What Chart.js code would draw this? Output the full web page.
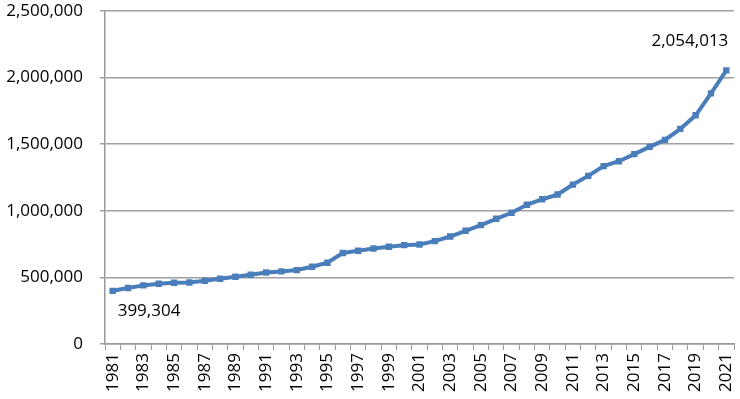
<!DOCTYPE html>
<html><head><meta charset="utf-8">
<script src="https://cdn.jsdelivr.net/npm/chart.js@4"></script>
<style>html,body{margin:0;padding:0;background:#fff}#wrap{width:740px;height:399px}</style>
</head><body><div id="wrap"><canvas id="c"></canvas></div>
<script>
const years = [1981,1982,1983,1984,1985,1986,1987,1988,1989,1990,1991,1992,1993,1994,1995,1996,1997,1998,1999,2000,2001,2002,2003,2004,2005,2006,2007,2008,2009,2010,2011,2012,2013,2014,2015,2016,2017,2018,2019,2020,2021];
const values = [399304,420000,440000,452000,460000,462000,475000,490000,505000,520000,537000,545000,555000,580000,610000,683000,700000,717000,730000,742000,747000,772000,807000,850000,892000,940000,985000,1045000,1087000,1122000,1197000,1262000,1335000,1372000,1425000,1480000,1532000,1615000,1717000,1882000,2054013];
const yTicks = [0,500000,1000000,1500000,2000000,2500000];
const labelled = [0, values.length-1];

const FONT = "'Open Sans', sans-serif";
const dataLabels = {
  id:'dataLabels',
  afterDatasetsDraw(chart){
    const ctx = chart.ctx;
    const meta = chart.getDatasetMeta(0);
    ctx.save();
    ctx.font = "17px " + FONT;
    ctx.fillStyle = '#000';
    ctx.textBaseline = 'middle';
    labelled.forEach(i=>{
      const p = meta.data[i];
      const txt = values[i].toLocaleString('en-US');
      if (i === 0) { ctx.textAlign='left'; ctx.fillText(txt, p.x+5, p.y+20); }
      else { ctx.textAlign='right'; ctx.fillText(txt, p.x+2, p.y-29); }
    });
    ctx.restore();
  }
};

new Chart(document.getElementById('c'), {
  type:'line',
  data:{labels: years.map(String), datasets:[{
    data: values, borderColor:'#4a7ebb', backgroundColor:'#4a7ebb',
    borderWidth:4, pointStyle:'rect', pointRadius:4.5, pointBorderWidth:0, tension:0
  }]},
  options:{
    responsive:true, maintainAspectRatio:false, animation:false,
    layout:{padding:{top:11,right:6,left:0,bottom:0}},
    plugins:{legend:{display:false},tooltip:{enabled:false}},
    scales:{
      x:{
        offset:true,
        grid:{offset:true, drawOnChartArea:false, drawTicks:true, tickLength:6, color:'#999'},
        border:{color:'#999', width:1.5},
        ticks:{autoSkip:false, minRotation:90, maxRotation:90, padding:3, color:'#000',
          font:{family:FONT, size:17},
          callback:function(v,i){ return i%2===0 ? this.getLabelForValue(v) : ''; }},
        afterFit(s){ s.height = 55; s.paddingLeft = 0; s.paddingRight = 0; }
      },
      y:{
        min:0, max:2500000,
        afterBuildTicks(s){ s.ticks = yTicks.map(v=>({value:v})); },
        grid:{color:'#a0a0a0', lineWidth:1.5, tickLength:5},
        border:{color:'#999', width:1.5},
        ticks:{color:'#000', padding:17, font:{family:FONT, size:17},
          callback:v=>Number(v).toLocaleString('en-US')},
        afterFit(s){ s.width = 105; s.paddingTop = 0; s.paddingBottom = 0; }
      }
    }
  },
  plugins:[dataLabels]
});
</script></body></html>
